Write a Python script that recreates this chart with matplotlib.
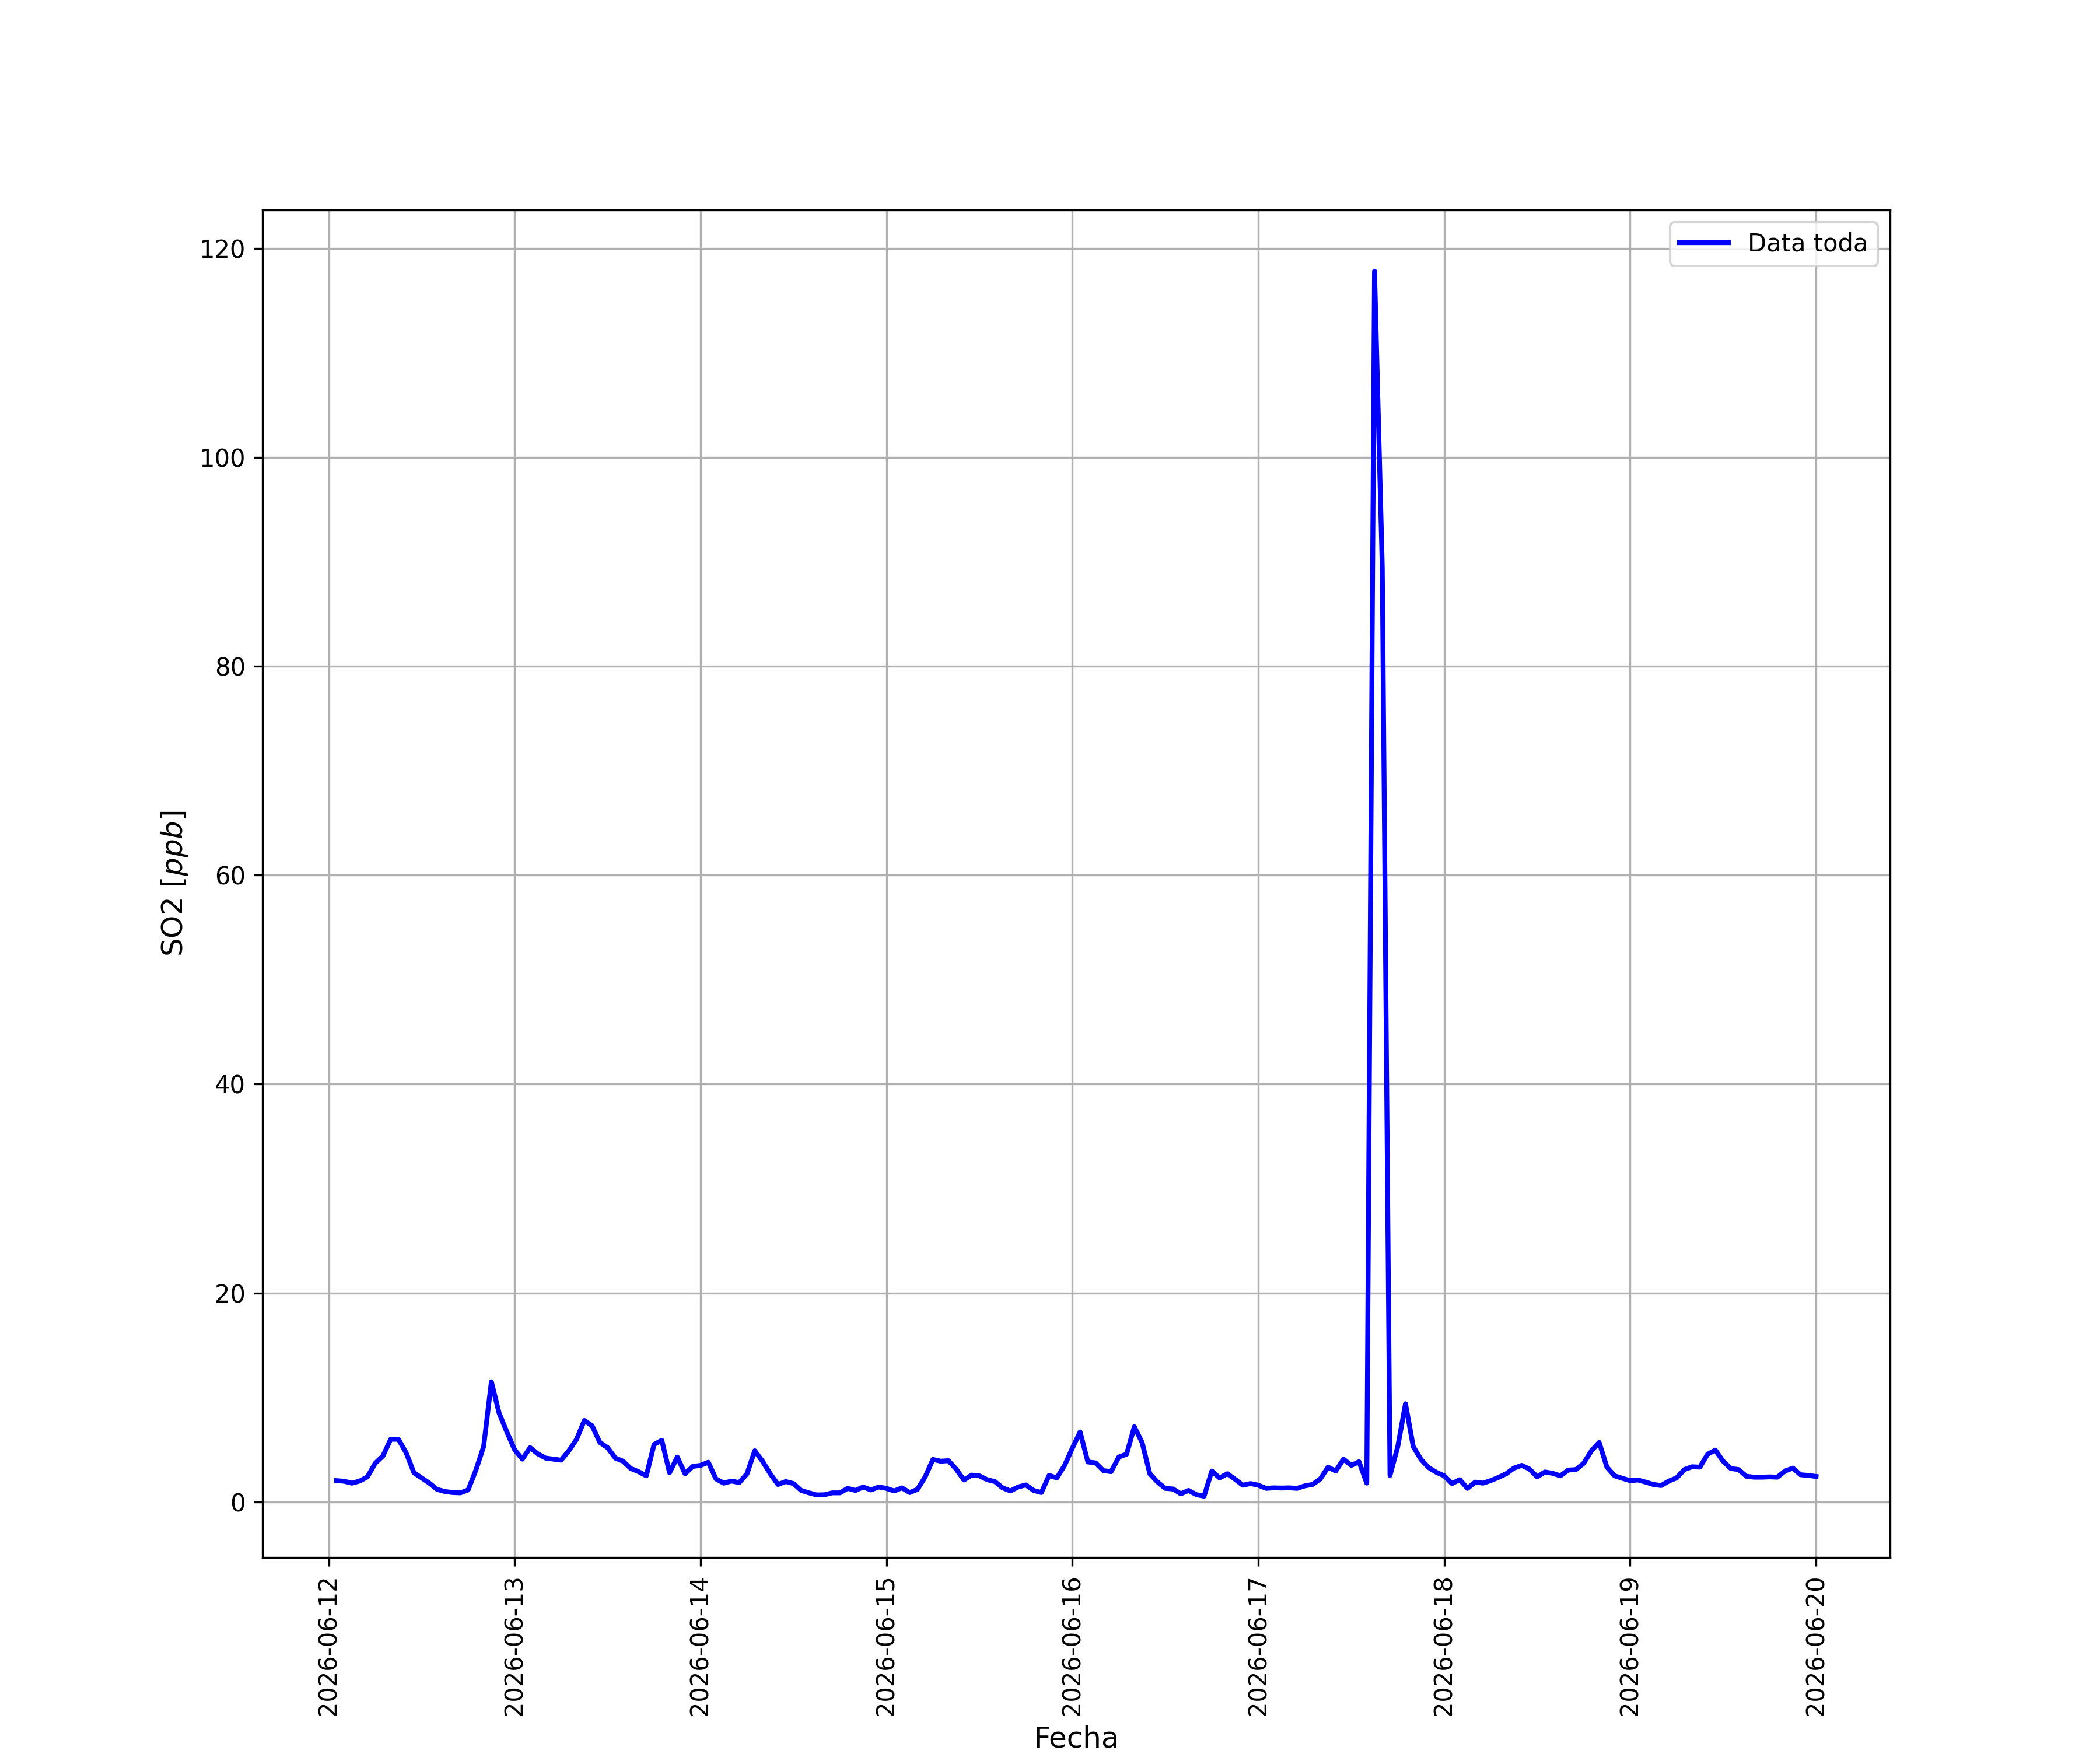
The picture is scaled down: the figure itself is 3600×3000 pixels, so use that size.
import matplotlib
matplotlib.use("Agg")
import matplotlib.pyplot as plt
import matplotlib.dates as mdates
import pandas as pd

# Serie horaria de SO2 (ppb), desde 2026-06-12 01:00 hasta 2026-06-20 00:00
inicio = "2026-06-12 01:00"
so2 = [
    2.04, 1.98, 1.8, 2.0, 2.4, 3.7, 4.4, 6.0, 6.0, 4.7, 2.8, 2.3,
    1.8, 1.2, 1.0, 0.9, 0.87, 1.15, 3.05, 5.3, 11.5, 8.5, 6.7, 5.0,
    4.1, 5.2, 4.6, 4.2, 4.1, 4.0, 4.9, 6.0, 7.8, 7.3, 5.7, 5.2,
    4.2, 3.9, 3.2, 2.9, 2.5, 5.5, 5.9, 2.8, 4.3, 2.7, 3.4, 3.5,
    3.8, 2.2, 1.8, 2.0, 1.85, 2.7, 4.9, 3.9, 2.7, 1.67, 1.95, 1.76,
    1.1, 0.87, 0.67, 0.69, 0.87, 0.87, 1.3, 1.1, 1.43, 1.15, 1.43, 1.3,
    1.05, 1.35, 0.9, 1.2, 2.4, 4.07, 3.9, 3.95, 3.15, 2.1, 2.57, 2.5,
    2.13, 1.95, 1.35, 1.05, 1.43, 1.63, 1.1, 0.9, 2.54, 2.3, 3.5, 5.15,
    6.7, 3.83, 3.74, 3.0, 2.9, 4.3, 4.57, 7.2, 5.7, 2.7, 1.9, 1.3,
    1.24, 0.78, 1.1, 0.7, 0.55, 2.96, 2.3, 2.7, 2.17, 1.6, 1.76, 1.6,
    1.3, 1.35, 1.33, 1.35, 1.3, 1.54, 1.67, 2.2, 3.33, 2.96, 4.1, 3.5,
    3.85, 1.8, 117.8, 89.5, 2.54, 5.3, 9.4, 5.3, 4.07, 3.28, 2.83, 2.5,
    1.76, 2.13, 1.3, 1.9, 1.8, 2.04, 2.35, 2.7, 3.24, 3.5, 3.15, 2.4,
    2.87, 2.74, 2.5, 3.05, 3.1, 3.7, 4.9, 5.7, 3.33, 2.5, 2.26, 2.04,
    2.1, 1.9, 1.67, 1.57, 2.0, 2.3, 3.1, 3.37, 3.33, 4.57, 4.96, 3.9,
    3.2, 3.1, 2.46, 2.37, 2.37, 2.4, 2.37, 2.96, 3.24, 2.6, 2.54, 2.44,
]

fechas = pd.date_range(inicio, periods=len(so2), freq="h")

fig, ax = plt.subplots(figsize=(12, 10))
ax.plot(fechas, so2, color="blue", linewidth=2, label="Data toda")

ax.xaxis.set_major_locator(mdates.DayLocator())
ax.xaxis.set_major_formatter(mdates.DateFormatter("%Y-%m-%d"))
plt.setp(ax.get_xticklabels(), rotation=90)

ax.set_xlabel("Fecha", fontsize=12)
ax.set_ylabel("SO2 [$ppb$]", fontsize=12)
ax.grid(True)
ax.legend(loc="upper right")

fig.savefig("out.png", dpi=300)
